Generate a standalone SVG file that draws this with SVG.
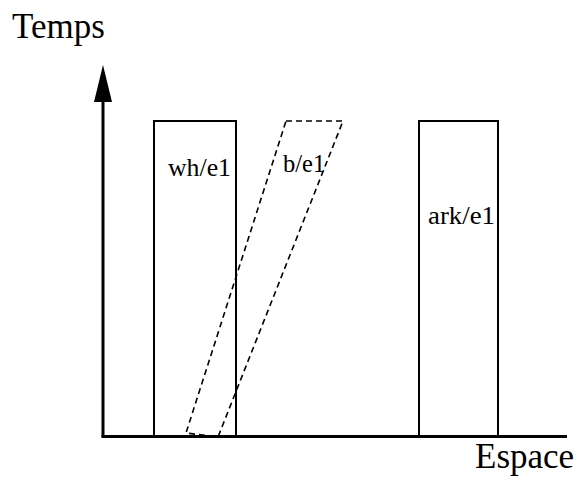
<svg xmlns="http://www.w3.org/2000/svg" width="580" height="479" viewBox="0 0 580 479">
<style>
.lbl{font-family:"Liberation Serif","Times New Roman",serif;fill:#000}
.big{font-size:35px}
.small{font-size:24.5px}
.box{fill:none;stroke:#000;stroke-width:2}
.dash{fill:none;stroke:#000;stroke-width:1.6;stroke-dasharray:6,4}
.axis{fill:none;stroke:#000;stroke-width:3}
</style>
<rect width="580" height="479" fill="#fff"/>
<g id="axes">
<line class="axis" x1="103" y1="437" x2="103" y2="98"/>
<polygon points="103,65 94,102 112,102" fill="#000"/>
<line class="axis" x1="101.5" y1="436.5" x2="567" y2="436.5"/>
<text class="lbl big" x="12" y="38">Temps</text>
<text class="lbl big" x="475" y="468">Espace</text>
</g>
<g id="wh-e1">
<rect class="box" x="154" y="121" width="82" height="315"/>
<text class="lbl small" x="168" y="176" textLength="63" lengthAdjust="spacingAndGlyphs">wh/e1</text>
</g>
<g id="b-e1">
<polygon class="dash" points="286,121 343,121 218,437 186,433"/>
<text class="lbl small" x="283" y="172">b/e1</text>
</g>
<g id="ark-e1">
<rect class="box" x="419" y="121" width="79" height="315"/>
<text class="lbl small" x="428" y="224" textLength="67" lengthAdjust="spacingAndGlyphs">ark/e1</text>
</g>
</svg>
